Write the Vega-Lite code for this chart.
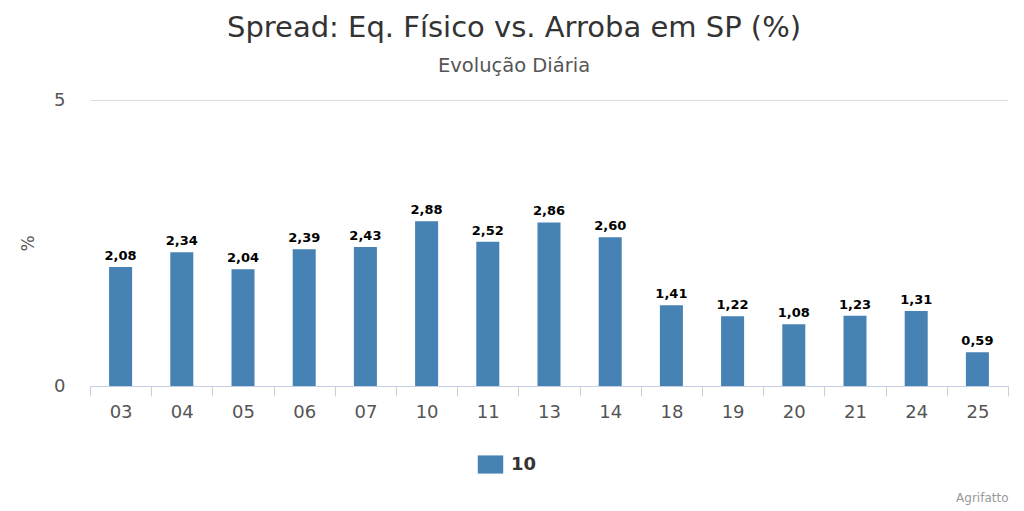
{
  "$schema": "https://vega.github.io/schema/vega-lite/v6.json",
  "autosize": {"type": "none"},
  "width": 918,
  "height": 286,
  "padding": {"left": 90, "top": 100, "right": 16, "bottom": 125},
  "background": "white",
  "config": {
    "font": "DejaVu Sans",
    "view": {"stroke": null},
    "locale": {"number": {"decimal": ",", "thousands": ".", "grouping": [3], "currency": ["R$", ""]}}
  },
  "title": {
    "text": "Spread: Eq. Físico vs. Arroba em SP (%)",
    "subtitle": "Evolução Diária",
    "anchor": "middle",
    "frame": "bounds",
    "fontSize": 29,
    "fontWeight": "normal",
    "color": "#333333",
    "subtitleFontSize": 19.5,
    "subtitleColor": "#555555",
    "subtitlePadding": 14,
    "offset": 16
  },
  "data": {
    "values": [
      {"dia": "03", "valor": 2.08, "serie": "10"},
      {"dia": "04", "valor": 2.34, "serie": "10"},
      {"dia": "05", "valor": 2.04, "serie": "10"},
      {"dia": "06", "valor": 2.39, "serie": "10"},
      {"dia": "07", "valor": 2.43, "serie": "10"},
      {"dia": "10", "valor": 2.88, "serie": "10"},
      {"dia": "11", "valor": 2.52, "serie": "10"},
      {"dia": "13", "valor": 2.86, "serie": "10"},
      {"dia": "14", "valor": 2.60, "serie": "10"},
      {"dia": "18", "valor": 1.41, "serie": "10"},
      {"dia": "19", "valor": 1.22, "serie": "10"},
      {"dia": "20", "valor": 1.08, "serie": "10"},
      {"dia": "21", "valor": 1.23, "serie": "10"},
      {"dia": "24", "valor": 1.31, "serie": "10"},
      {"dia": "25", "valor": 0.59, "serie": "10"}
    ]
  },
  "encoding": {
    "x": {
      "field": "dia",
      "type": "ordinal",
      "sort": null,
      "scale": {"paddingInner": 0, "paddingOuter": 0},
      "axis": {
        "title": "Agrifatto",
        "titleAnchor": "end",
        "titleAlign": "right",
        "titleBaseline": "middle",
        "titleFontSize": 12,
        "titleFontWeight": "normal",
        "titleColor": "#999999",
        "titleX": 918,
        "titleY": 111,
        "labelAngle": 0,
        "labelFontSize": 18,
        "labelColor": "#555555",
        "labelPadding": 7,
        "ticks": true,
        "tickBand": "extent",
        "tickSize": 10,
        "tickWidth": 1,
        "tickColor": "#c4cfe3",
        "tickOpacity": 1,
        "domainColor": "#c4cfe3",
        "grid": false
      }
    },
    "y": {
      "field": "valor",
      "type": "quantitative",
      "scale": {"domain": [0, 5], "nice": false},
      "axis": {
        "title": "%",
        "titleFontSize": 17,
        "titleFontWeight": "normal",
        "titleColor": "#555555",
        "titlePadding": 16,
        "values": [0, 5],
        "labelFontSize": 18,
        "labelColor": "#555555",
        "labelPadding": 25,
        "domain": false,
        "ticks": false,
        "gridColor": "#e0e0e0"
      }
    }
  },
  "layer": [
    {
      "mark": {"type": "bar", "color": "#4682B4", "width": {"band": 0.376}},
      "encoding": {
        "color": {
          "field": "serie",
          "type": "nominal",
          "scale": {"range": ["#4682B4"]},
          "legend": {
            "title": null,
            "orient": "none",
            "legendX": 391,
            "legendY": 355,
            "symbolType": "M-1.4,-1H1.4V1H-1.4Z",
            "symbolSize": 330,
            "symbolStrokeWidth": 0,
            "labelFontSize": 18,
            "labelFontWeight": "bold",
            "labelColor": "#333333",
            "labelOffset": 11
          }
        }
      }
    },
    {
      "mark": {"type": "text", "dy": -11, "fontSize": 13, "fontWeight": "bold", "color": "#000000"},
      "encoding": {
        "text": {"field": "valor", "type": "quantitative", "format": ".2f"}
      }
    }
  ]
}
